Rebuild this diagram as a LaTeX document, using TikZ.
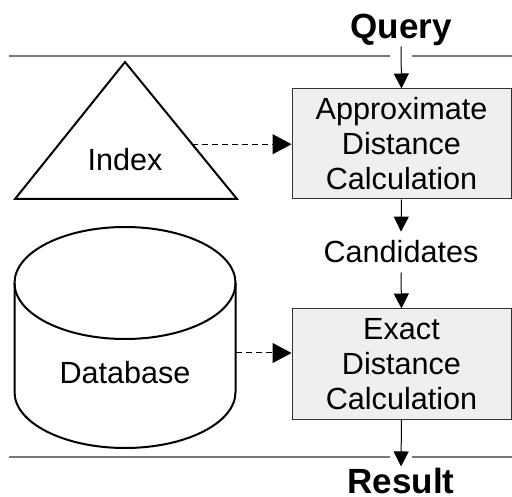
\documentclass[tikz,border=0pt]{standalone}
\usepackage{fontspec}
\setmainfont{Liberation Sans}
\usetikzlibrary{arrows.meta,calc}
\definecolor{boxfill}{RGB}{239,239,239}
\definecolor{rulegray}{RGB}{120,120,120}
\tikzset{
  calcbox/.style={draw=black!80, line width=1pt, fill=boxfill, minimum width=219pt, minimum height=110pt, align=center, inner sep=0pt, font=\fontsize{30.6}{35}\selectfont},
  plain/.style={font=\fontsize{30.6}{35}\selectfont},
  heading/.style={font=\fontsize{35}{40}\selectfont\bfseries},
  flow/.style={line width=1pt, -{Triangle[length=15pt,width=15pt]}},
  feed/.style={line width=1pt, dash pattern=on 6pt off 4pt, -{Triangle[length=19pt,width=20pt]}},
  rule/.style={draw=rulegray, line width=1.5pt},
  solid2/.style={line width=2pt, line join=miter}
}
\begin{document}
\begin{tikzpicture}[x=1pt,y=-1pt]
\useasboundingbox (0,0) rectangle (512,497);
% rules
\draw[rule] (9,56) -- (390,56);
\draw[rule] (412,56) -- (512,56);
\draw[rule] (9,457) -- (390,457);
\draw[rule] (412,457) -- (512,457);
% labels
\node[heading, anchor=base, inner sep=0pt] (query) at (401,39) {Query};
\node[heading, anchor=base, inner ysep=1pt, inner xsep=0pt] (result) at (401,493) {Result};
\node[plain, anchor=base, inner ysep=9pt, inner xsep=0pt] (cand) at (401,263) {Candidates};
% boxes
\node[calcbox] (approx) at (401.5,144) {Approximate\\Distance\\Calculation};
\node[calcbox] (exact) at (401.5,364) {Exact\\Distance\\Calculation};
% triangle
\coordinate (apex) at (125,62);
\coordinate (bl) at (15,199);
\coordinate (br) at (237,199);
\draw[solid2] (apex) -- (br) -- (bl) -- cycle;
\coordinate (idxr) at ($(apex)!0.6!(br)$);
\node[plain] (index) at (125,160) {Index};
% cylinder
\draw[solid2] (125,283) ellipse [x radius=110.5pt, y radius=56pt];
\draw[solid2] (14.5,283) -- (14.5,392) arc[start angle=180, end angle=360, x radius=110.5pt, y radius=56pt] -- (235.5,283);
\coordinate (dbr) at (235.5,353);
\node[plain] (db) at (125,373) {Database};
% connectors
\draw[flow] (query.south) -- (approx.north);
\draw[flow] (approx.south) -- (cand.north);
\draw[flow] (cand.south) -- (exact.north);
\draw[flow] (exact.south) -- (result.north);
\draw[feed] (idxr) -- (approx.west |- idxr);
\draw[feed] (dbr) -- (exact.west |- dbr);
\end{tikzpicture}
\end{document}
